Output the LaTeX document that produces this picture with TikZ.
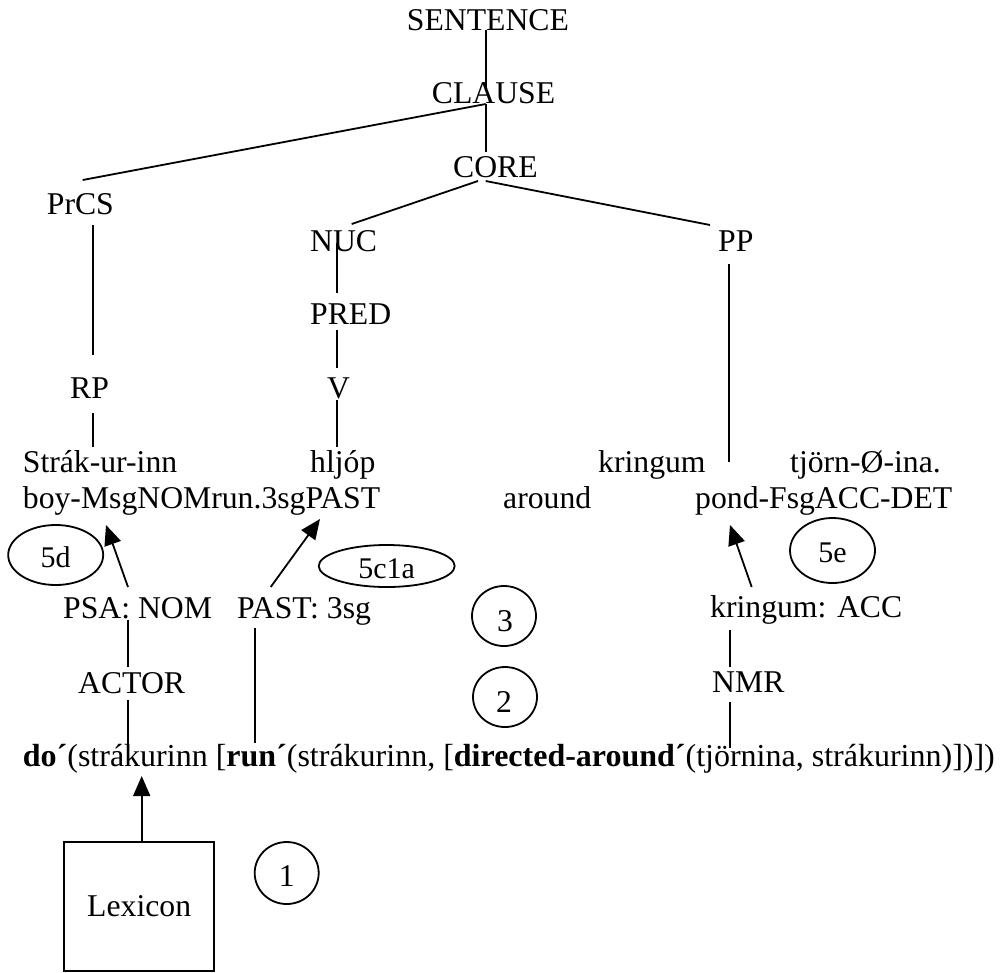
\documentclass[tikz,border=0pt]{standalone}
\usepackage{fontspec}
\setmainfont{Liberation Serif}
\usetikzlibrary{arrows.meta}

\newcommand{\mainsize}{\fontsize{31.7}{38}\selectfont}
\newcommand{\formsize}{\fontsize{32}{38}\selectfont}
\newcommand{\tagsize}{\fontsize{30}{34}\selectfont}

\tikzset{
  lbl/.style={inner sep=0pt, anchor=base west, font=\mainsize},
  tag/.style={inner sep=0pt, anchor=base, font=\tagsize},
  num/.style={inner sep=0pt, anchor=base, font=\mainsize},
  branch/.style={line width=1.8pt},
  pointer/.style={line width=1.8pt, -{Triangle[length=20pt,width=17pt]}},
  ring/.style={line width=1.8pt},
}

\begin{document}
\begin{tikzpicture}[x=1pt,y=-1pt]
\useasboundingbox (0,0) rectangle (1000,972);

% ---------- tree labels ----------
\node[lbl] (sentence) at (406.7,30) {SENTENCE};
\node[lbl] (clause)   at (431.7,103) {CLAUSE};
\node[lbl] (core)     at (453,177) {CORE};
\node[lbl] (prcs)     at (46.7,214) {PrCS};
\node[lbl] (nuc)      at (310,251.7) {NUC};
\node[lbl] (pp)       at (718,251.7) {PP};
\node[lbl] (pred)     at (310,324) {PRED};
\node[lbl] (rp)       at (70,398) {RP};
\node[lbl] (v)        at (327,398) {V};

% ---------- words and glosses ----------
\node[lbl] (w1) at (22.7,472) {Strák-ur-inn};
\node[lbl] (w2) at (310,472) {hljóp};
\node[lbl] (w3) at (598,472) {kringum};
\node[lbl] (w4) at (790,472) {tjörn-Ø-ina.};
\node[lbl] (g1) at (22.7,508) {boy-MsgNOMrun.3sgPAST};
\node[lbl] (g3) at (503,508) {around};
\node[lbl] (g4) at (695,508) {pond-FsgACC-DET};

% ---------- linking labels ----------
\node[lbl] (psa)   at (63,618) {PSA: NOM};
\node[lbl] (past)  at (237,618) {PAST: 3sg};
\node[lbl] (kracc) at (710,617) {kringum: ACC};
\node[lbl] (actor) at (78,693) {ACTOR};
\node[lbl] (nmr)   at (712,692) {NMR};

% ---------- logical structure ----------
\node[lbl, font=\formsize] (ls) at (22.7,766)
  {\textbf{do´}(strákurinn [\textbf{run´}(strákurinn, [\textbf{directed-around´}(tjörnina, strákurinn)])])};

% ---------- lexicon box ----------
\node[draw, line width=1.8pt, minimum width=149.7pt, minimum height=128.4pt,
      inner sep=0pt, font=\mainsize] (lexicon) at (139.15,906.5) {Lexicon};

% ---------- numbered steps ----------
\draw[ring] (55.7,555) ellipse [x radius=47.5, y radius=30];
\node[tag] (s5d) at (55.7,567) {5d};
\draw[ring] (386.7,566) ellipse [x radius=68, y radius=21];
\node[tag] (s5c1a) at (386.7,578) {5c1a};
\draw[ring] (832.5,550.5) ellipse [x radius=42.5, y radius=32.5];
\node[tag] (s5e) at (832.5,562) {5e};
\draw[ring] (504,616) ellipse [x radius=32, y radius=30];
\node[num] (s3) at (505,631) {3};
\draw[ring] (505,697) ellipse [x radius=32, y radius=30];
\node[num] (s2) at (504,712) {2};
\draw[ring] (286.7,873) ellipse [x radius=32, y radius=31];
\node[num] (s1) at (286.7,886) {1};

% ---------- branch end points ----------
\coordinate (sentence-s) at (485.7,30);
\coordinate (clause-n)   at (485.7,88);
\coordinate (clause-s)   at (485.7,104);
\coordinate (core-n)     at (485.7,152);
\coordinate (prcs-n)     at (82.7,180);
\coordinate (core-sw)    at (478,181);
\coordinate (core-se)    at (485.7,181);
\coordinate (nuc-n)      at (351.7,224);
\coordinate (pp-n)       at (710,225);
\coordinate (prcs-s)     at (92.7,225);
\coordinate (rp-n)       at (92.7,355);
\coordinate (rp-s)       at (92.7,413);
\coordinate (w1-n)       at (92.7,447);
\coordinate (nuc-s)      at (337.3,243);
\coordinate (pred-n)     at (337.3,293);
\coordinate (pred-s)     at (337.3,330);
\coordinate (v-n)        at (337.3,368);
\coordinate (v-s)        at (337.3,400);
\coordinate (w2-n)       at (337.3,447);
\coordinate (pp-s)       at (729,264);
\coordinate (w3-e)       at (729,462);
\coordinate (psa-s)      at (128.3,620);
\coordinate (actor-n)    at (128.3,667);
\coordinate (actor-s)    at (128.3,700);
\coordinate (ls-do)      at (128.3,745);
\coordinate (past-s)     at (255,628);
\coordinate (ls-run)     at (255,743);
\coordinate (kracc-s)    at (730,630);
\coordinate (nmr-n)      at (730,667);
\coordinate (nmr-s)      at (730,702);
\coordinate (ls-dir)     at (730,748);

% ---------- tree branches ----------
\draw[branch] (sentence-s) -- (clause-n);
\draw[branch] (clause-s) -- (core-n);
\draw[branch] (clause-s) -- (prcs-n);
\draw[branch] (core-sw) -- (nuc-n);
\draw[branch] (core-se) -- (pp-n);
\draw[branch] (prcs-s) -- (rp-n);
\draw[branch] (rp-s) -- (w1-n);
\draw[branch] (nuc-s) -- (pred-n);
\draw[branch] (pred-s) -- (v-n);
\draw[branch] (v-s) -- (w2-n);
\draw[branch] (pp-s) -- (w3-e);

% ---------- linking lines ----------
\draw[branch] (psa-s) -- (actor-n);
\draw[branch] (actor-s) -- (ls-do);
\draw[branch] (past-s) -- (ls-run);
\draw[branch] (kracc-s) -- (nmr-n);
\draw[branch] (nmr-s) -- (ls-dir);

% ---------- arrows ----------
\coordinate (psa-a)   at (128,587);
\coordinate (g1-nom)  at (106,525);
\coordinate (past-a)  at (270.7,587);
\coordinate (g1-past) at (320,519);
\coordinate (kracc-a) at (751.7,587);
\coordinate (g4-a)    at (730,525);
\coordinate (ls-arg)  at (141.7,776);
\draw[pointer] (psa-a) -- (g1-nom);
\draw[pointer] (past-a) -- (g1-past);
\draw[pointer] (kracc-a) -- (g4-a);
\draw[pointer] (lexicon.north -| ls-arg) -- (ls-arg);
\end{tikzpicture}
\end{document}
